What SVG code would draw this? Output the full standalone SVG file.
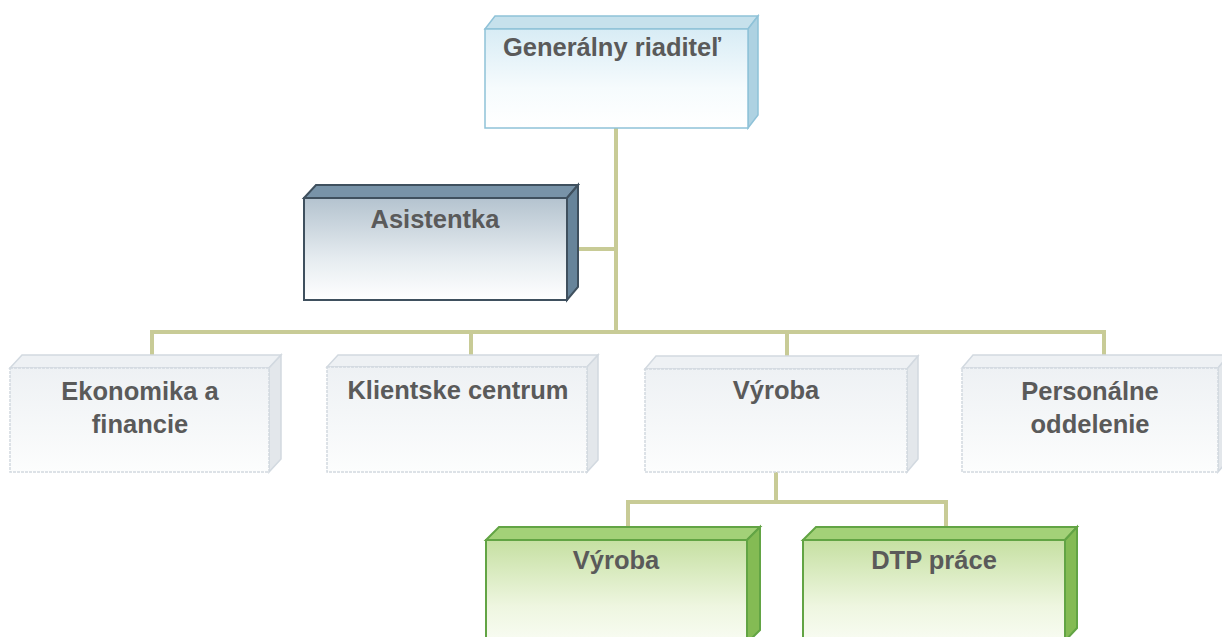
<svg xmlns="http://www.w3.org/2000/svg" width="1222" height="637" viewBox="0 0 1222 637">
<defs>
<linearGradient id="gBlue" x1="0" y1="0" x2="0" y2="1"><stop offset="0" stop-color="#d8ecf5"/><stop offset="0.6" stop-color="#f6fbfd"/><stop offset="1" stop-color="#ffffff"/></linearGradient>
<linearGradient id="gSteel" x1="0" y1="0" x2="0" y2="1"><stop offset="0" stop-color="#b4c3cf"/><stop offset="0.6" stop-color="#e6ecf0"/><stop offset="1" stop-color="#ffffff"/></linearGradient>
<linearGradient id="gLight" x1="0" y1="0" x2="0" y2="1"><stop offset="0" stop-color="#eef1f4"/><stop offset="1" stop-color="#fcfdfd"/></linearGradient>
<linearGradient id="gGreen" x1="0" y1="0" x2="0" y2="1"><stop offset="0" stop-color="#c6e0a2"/><stop offset="0.6" stop-color="#eef6e0"/><stop offset="1" stop-color="#fbfdf7"/></linearGradient>
</defs>
<style>
text{font-family:"Liberation Sans",Arial,sans-serif;font-weight:bold;font-size:25.5px;fill:#5a5a5a;text-anchor:middle}
.con{fill:none;stroke:#c8cb96;stroke-width:4}
.blue .f{fill:url(#gBlue);stroke:#8fc2d8;stroke-width:1.5}
.blue .t{fill:#c6e1ec;stroke:#8fc2d8;stroke-width:1.5}
.blue .s{fill:#aed2e2;stroke:#8fc2d8;stroke-width:1.5}
.steel .f{fill:url(#gSteel);stroke:#3f505e;stroke-width:2}
.steel .t{fill:#7893a8;stroke:#3f505e;stroke-width:2}
.steel .s{fill:#67849a;stroke:#3f505e;stroke-width:2}
.light .f{fill:url(#gLight);stroke:#d2d9e0;stroke-width:1.5;stroke-dasharray:3 1}
.light .t{fill:#eef1f4;stroke:#d2d9e0;stroke-width:1.5}
.light .s{fill:#e3e7eb;stroke:#d2d9e0;stroke-width:1.5}
.green .f{fill:url(#gGreen);stroke:#62a444;stroke-width:2}
.green .t{fill:#a3d178;stroke:#62a444;stroke-width:2}
.green .s{fill:#84bb54;stroke:#62a444;stroke-width:2}
</style>
<rect width="1222" height="637" fill="#ffffff"/>
<g id="connectors">
<path class="con" d="M616,128 V332"/>
<path class="con" d="M578,249 H616"/>
<path class="con" d="M152,355 V332 H1104 V355"/>
<path class="con" d="M471,332 V355"/>
<path class="con" d="M787,332 V357"/>
<path class="con" d="M776,472 V502"/>
<path class="con" d="M628,527 V502 H946 V527"/>
</g>
<g id="n-generalny" class="blue">
<polygon class="t" points="485,29 495,16 758,16 748,29"/>
<polygon class="s" points="748,29 758,16 758,115 748,128"/>
<rect class="f" x="485" y="29" width="263" height="99"/>
<text x="612" y="56">Generálny riaditeľ</text>
</g>
<g id="n-asistentka" class="steel">
<polygon class="t" points="304,198 316,185 578,185 567,198"/>
<polygon class="s" points="567,198 578,185 578,287 567,300"/>
<rect class="f" x="304" y="198" width="263" height="102"/>
<text x="435" y="228">Asistentka</text>
</g>
<g id="n-ekonomika" class="light">
<polygon class="t" points="10,368 22,355 281,355 269,368"/>
<polygon class="s" points="269,368 281,355 281,459 269,472"/>
<rect class="f" x="10" y="368" width="259" height="104"/>
<text x="140" y="400">Ekonomika a</text>
<text x="140" y="433">financie</text>
</g>
<g id="n-klientske" class="light">
<polygon class="t" points="327,367 338,355 598,355 587,367"/>
<polygon class="s" points="587,367 598,355 598,460 587,472"/>
<rect class="f" x="327" y="367" width="260" height="105"/>
<text x="458" y="399">Klientske centrum</text>
</g>
<g id="n-vyroba" class="light">
<polygon class="t" points="645,369 656,356 918,356 907,369"/>
<polygon class="s" points="907,369 918,356 918,459 907,472"/>
<rect class="f" x="645" y="369" width="262" height="103"/>
<text x="776" y="399">Výroba</text>
</g>
<g id="n-personalne" class="light">
<polygon class="t" points="962,368 973,355 1229,355 1218,368"/>
<polygon class="s" points="1218,368 1229,355 1229,459 1218,472"/>
<rect class="f" x="962" y="368" width="256" height="104"/>
<text x="1090" y="400">Personálne</text>
<text x="1090" y="433">oddelenie</text>
</g>
<g id="n-vyroba2" class="green">
<polygon class="t" points="486,540 499,527 760,527 747,540"/>
<polygon class="s" points="747,540 760,527 760,630 747,643"/>
<rect class="f" x="486" y="540" width="261" height="110"/>
<text x="616" y="569">Výroba</text>
</g>
<g id="n-dtp" class="green">
<polygon class="t" points="803,540 816,527 1077,527 1065,540"/>
<polygon class="s" points="1065,540 1077,527 1077,628 1065,641"/>
<rect class="f" x="803" y="540" width="262" height="110"/>
<text x="934" y="569">DTP práce</text>
</g>
</svg>
